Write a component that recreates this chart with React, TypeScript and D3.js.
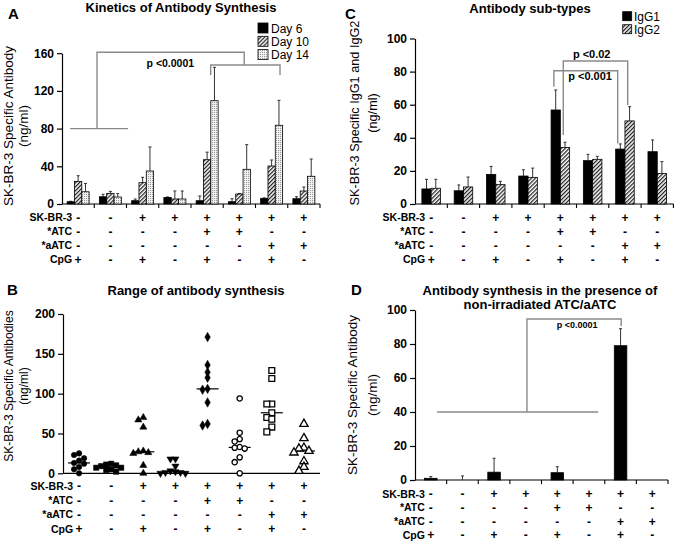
import React, { useEffect, useRef } from "react";
import * as d3 from "d3";

// conditions (columns) and the +/- table under each panel
const groups = ["CpG", "Medium", "SK+CpG", "SK", "SK+ATC+CpG", "SK+ATC", "SK+aATC+CpG", "SK+aATC"];
const rowNames = ["SK-BR-3", "*ATC", "*aATC", "CpG"];
const skbr3Row = ["-", "-", "+", "+", "+", "+", "+", "+"];
const atcRow = ["-", "-", "-", "-", "+", "+", "-", "-"];
const aatcRow = ["-", "-", "-", "-", "-", "-", "+", "+"];
const cpgRow = ["+", "-", "+", "-", "+", "-", "+", "-"];
const signRows = [skbr3Row, atcRow, aatcRow, cpgRow];

// A: kinetics (ng/ml, mean and SD)
const kineticsSeries = ["Day 6", "Day 10", "Day 14"];
const day6 = [2.4, 7.7, 3.5, 7, 3.5, 2.4, 6, 5.6];
const day6Sd = [0.5, 2.6, 1.8, 0.5, 5, 3.2, 0.5, 2.1];
const day10 = [24, 11.3, 22.6, 5.3, 47, 10.6, 40.3, 13.8];
const day10Sd = [6, 2.1, 5.7, 8.5, 8, 0.6, 6.4, 4.2];
const day14 = [13, 7.4, 35, 5.3, 109.6, 36.8, 83.5, 29.4];
const day14Sd = [8.8, 3.6, 25.5, 8.5, 35.4, 26.2, 26.5, 18.3];
const ticksA = [0, 40, 80, 120, 160];

// B: individual values
const rangeCpG = [25, 23, 19, 16, 13, 12, 8, 5, 0];
const rangeMedium = [12, 11, 10, 9, 7, 7, 5, 4, 2];
const rangeSkCpG = [70, 67, 58, 28, 27, 26, 25, 10, 0];
const rangeSk = [18, 18, 9, 3, 2, 1, 1, 0, 0];
const rangeSkAtcCpG = [171, 136, 127, 120, 106, 105, 89, 62, 60];
const rangeSkAtc = [94, 51, 43, 40, 33, 32, 31, 20, 14, 0];
const rangeSkAatcCpG = [129, 119, 87, 87, 76, 70, 68, 58, 52];
const rangeSkAatc = [62, 44, 32, 31, 28, 26, 15, 8, 3];
const ticksB = [0, 50, 100, 150, 200];

// C: sub-types
const subtypeSeries = ["IgG1", "IgG2"];
const igg1 = [9.1, 8, 17.9, 16.9, 56.8, 26.2, 33.2, 31.6];
const igg1Sd = [5.8, 3.5, 4.8, 3.8, 12.1, 3.8, 3.1, 7.1];
const igg2 = [9.5, 10.3, 11.7, 16.1, 34.2, 27, 50.2, 18.5];
const igg2Sd = [5.4, 6, 2, 5.6, 3.1, 1.8, 8.6, 7.1];
const ticksC = [0, 20, 40, 60, 80, 100];

// D: non-irradiated
const nonIrradiated = [1, 0, 4.6, 0, 4.3, 0, 79, 0];
const nonIrradiatedSd = [1, 2.4, 8.2, 0, 3.5, 0, 10, 0];
const ticksD = [0, 20, 40, 60, 80, 100];

// significance brackets: [group position, value]
const bracketsA = [
  [[0.25, 80], [2.05, 80]],
  [[1.085, 80], [1.085, 161], [5.65, 161], [5.65, 147.5]],
  [[4.61, 137], [4.61, 147.5], [6.76, 147.5], [6.76, 137]],
];
const bracketsC = [
  [[4.59, 41.7], [4.59, 86.4], [6.585, 86.4], [6.585, 59.8]],
  [[4.3, 70.9], [4.3, 80.5], [6.275, 80.5], [6.275, 36.7]],
];
const bracketsD = [
  [[0.7, 40], [5.79, 40]],
  [[3.54, 40], [3.54, 94.7], [6.52, 94.7], [6.52, 90.6]],
];

const font = "'Liberation Sans', Arial, sans-serif";

function frame(svg, p) {
  const x = d3.scaleBand().domain(groups).range([p.x0, p.x1]);
  const y = d3.scaleLinear().domain([0, p.yMax]).range([p.yBase, p.yTop]);

  const ay = svg
    .append("g")
    .attr("transform", `translate(${p.x0},0)`)
    .call(d3.axisLeft(y).tickValues(p.ticks).tickSize(5).tickSizeOuter(0).tickPadding(3));
  ay.attr("font-size", 12).attr("font-family", font).attr("font-weight", "bold");
  ay.selectAll("path,line").attr("stroke-width", 1.2);

  svg
    .append("line")
    .attr("x1", p.x0)
    .attr("x2", p.x1)
    .attr("y1", p.yBase)
    .attr("y2", p.yBase)
    .attr("stroke", "#000")
    .attr("stroke-width", 1.2);

  if (p.xTicks) {
    svg
      .selectAll(null)
      .data(groups)
      .enter()
      .append("line")
      .attr("x1", (d) => x(d) + x.bandwidth())
      .attr("x2", (d) => x(d) + x.bandwidth())
      .attr("y1", p.yBase)
      .attr("y2", p.yBase + 4)
      .attr("stroke", "#000")
      .attr("stroke-width", 1.1);
  }

  // +/- table
  signRows.forEach((row, i) => {
    const ry = p.rowStart + i * p.rowStep;
    svg
      .append("text")
      .attr("x", x(groups[0]) + x.bandwidth() / 2 - 6)
      .attr("y", ry)
      .attr("dy", "0.35em")
      .attr("text-anchor", "end")
      .attr("font-family", font)
      .attr("font-weight", "bold")
      .attr("font-size", 10.5)
      .text(rowNames[i]);
    svg
      .selectAll(null)
      .data(row)
      .enter()
      .append("text")
      .attr("x", (d, j) => x(groups[j]) + x.bandwidth() / 2)
      .attr("y", ry)
      .attr("dy", "0.35em")
      .attr("text-anchor", "middle")
      .attr("font-family", font)
      .attr("font-weight", "bold")
      .attr("font-size", 12)
      .text((d) => d);
  });

  // y title (two lines, rotated)
  p.yLabel.forEach((t, i) => {
    svg
      .append("text")
      .attr("transform", `translate(${p.yLabelX[i]},${p.yLabelY}) rotate(-90)`)
      .attr("text-anchor", "middle")
      .attr("font-family", font)
      .attr("font-size", p.yLabelSize)
      .text(t);
  });

  return { x, y };
}

function bars(svg, x, y, series, valueSets, sdSets, fills, padOuter) {
  const inner = d3.scaleBand().domain(series).range([0, x.bandwidth()]).paddingOuter(padOuter);
  series.forEach((s, si) => {
    const vals = valueSets[si];
    const sds = sdSets[si];
    const gs = svg.append("g");
    gs.selectAll(null)
      .data(groups)
      .enter()
      .filter((g, i) => sds[i] > 0)
      .each(function (g) {
        const i = groups.indexOf(g);
        const cx = x(g) + inner(s) + inner.bandwidth() / 2;
        gs.append("line")
          .attr("x1", cx).attr("x2", cx)
          .attr("y1", y(vals[i])).attr("y2", y(vals[i] + sds[i]))
          .attr("stroke", "#333").attr("stroke-width", 1);
        gs.append("line")
          .attr("x1", cx - 1.5).attr("x2", cx + 1.5)
          .attr("y1", y(vals[i] + sds[i])).attr("y2", y(vals[i] + sds[i]))
          .attr("stroke", "#333").attr("stroke-width", 1);
      });
    gs.selectAll(null)
      .data(groups.filter((g, i) => vals[i] > 0))
      .enter()
      .append("rect")
      .attr("x", (g) => x(g) + inner(s))
      .attr("width", inner.bandwidth())
      .attr("y", (g) => y(vals[groups.indexOf(g)]))
      .attr("height", (g) => y(0) - y(vals[groups.indexOf(g)]))
      .attr("fill", fills[si])
      .attr("stroke", "#000")
      .attr("stroke-width", 0.8);
  });
}

function brackets(svg, x, y, list) {
  const gx = (t) => x.range()[0] + t * x.step();
  const line = d3.line().x((d) => gx(d[0])).y((d) => y(d[1]));
  svg
    .selectAll(null)
    .data(list)
    .enter()
    .append("path")
    .attr("d", line)
    .attr("fill", "none")
    .attr("stroke", "#8a8a8a")
    .attr("stroke-width", 1.4);
  return gx;
}

function label(svg, x, y, t, size, weight = "bold", anchor = "middle") {
  svg
    .append("text")
    .attr("x", x)
    .attr("y", y)
    .attr("text-anchor", anchor)
    .attr("font-family", font)
    .attr("font-weight", weight)
    .attr("font-size", size)
    .text(t);
}

function dodge(values, y, cx) {
  const offs = [0, -5, 5, -10, 10, -15, 15, -20, 20];
  const placed = [];
  values
    .map((v, i) => i)
    .sort((a, b) => values[b] - values[a])
    .forEach((i) => {
      const py = y(values[i]);
      const dx =
        offs.find((o) => placed.every((q) => Math.abs(q.dx - o) >= 5 || Math.abs(q.py - py) >= 5)) ?? 0;
      placed.push({ dx, py });
    });
  return placed.map((q) => ({ x: cx + q.dx, y: q.py }));
}

export default function App() {
  const svgRef = useRef(null);

  useEffect(() => {
    document.body.style.margin = "0";
    const svg = d3.select(svgRef.current);
    svg.selectAll("*").remove();
    svg.append("rect").attr("width", 675).attr("height", 543).attr("fill", "#fff");

    const defs = svg.append("defs");
    const hatch = defs
      .append("pattern")
      .attr("id", "hatch")
      .attr("patternUnits", "userSpaceOnUse")
      .attr("width", 2.8)
      .attr("height", 2.8)
      .attr("patternTransform", "rotate(45)");
    hatch.append("rect").attr("width", 2.8).attr("height", 2.8).attr("fill", "#fff");
    hatch.append("line").attr("x1", 0.6).attr("x2", 0.6).attr("y1", 0).attr("y2", 2.8).attr("stroke", "#222").attr("stroke-width", 1.3);
    const dots = defs
      .append("pattern")
      .attr("id", "dots")
      .attr("patternUnits", "userSpaceOnUse")
      .attr("width", 2)
      .attr("height", 2);
    dots.append("rect").attr("width", 2).attr("height", 2).attr("fill", "#f0f0f0");
    dots.append("rect").attr("width", 1).attr("height", 1).attr("fill", "#9a9a9a");

    // ---------- A ----------
    const a = frame(svg, {
      x0: 62, x1: 320, yBase: 204, yTop: 53.2, yMax: 160, ticks: ticksA, xTicks: true,
      rowStart: 217.5, rowStep: 14,
      yLabel: ["SK-BR-3 Specific Antibody", "(ng/ml)"], yLabelX: [13, 28], yLabelY: 126, yLabelSize: 13.5,
    });
    const gxA = brackets(svg, a.x, a.y, bracketsA);
    bars(svg, a.x, a.y, kineticsSeries, [day6, day10, day14], [day6Sd, day10Sd, day14Sd], ["#000", "url(#hatch)", "url(#dots)"], 0.7);
    label(svg, gxA(3.36), a.y(145.7), "p <0.0001", 10.5);
    label(svg, 181, 12, "Kinetics of Antibody Synthesis", 13);
    label(svg, 8, 18.5, "A", 15, "bold", "start");
    kineticsSeries.forEach((s, i) => {
      svg.append("rect").attr("x", 258).attr("y", 23 + i * 13.3).attr("width", 10).attr("height", 10)
        .attr("fill", ["#000", "url(#hatch)", "url(#dots)"][i]).attr("stroke", "#000").attr("stroke-width", 0.8);
      label(svg, 271, 32.5 + i * 13.3, s, 12, "normal", "start");
    });

    // ---------- B ----------
    const b = frame(svg, {
      x0: 63, x1: 320, yBase: 473.3, yTop: 314, yMax: 200, ticks: ticksB, xTicks: false,
      rowStart: 486, rowStep: 14.3,
      yLabel: ["SK-BR-3 Specific Antibodies", "(ng/ml)"], yLabelX: [13, 28], yLabelY: 386, yLabelSize: 12,
    });
    const rangeSets = [rangeCpG, rangeMedium, rangeSkCpG, rangeSk, rangeSkAtcCpG, rangeSkAtc, rangeSkAatcCpG, rangeSkAatc];
    const shapes = [d3.symbolCircle, d3.symbolSquare, d3.symbolTriangle, d3.symbolTriangle, d3.symbolDiamond, d3.symbolCircle, d3.symbolSquare, d3.symbolTriangle];
    const sizes = [24, 28, 22, 22, 26, 22, 34, 30];
    rangeSets.forEach((vals, gi) => {
      const cx = b.x(groups[gi]) + b.x.bandwidth() / 2;
      const med = d3.median(vals);
      svg.append("line")
        .attr("x1", cx - 11).attr("x2", cx + 11)
        .attr("y1", b.y(med)).attr("y2", b.y(med))
        .attr("stroke", "#000").attr("stroke-width", 1.2);
      const open = gi >= 5;
      const sym = d3.symbol().type(shapes[gi]).size(sizes[gi]);
      svg.selectAll(null)
        .data(dodge(vals, b.y, cx))
        .enter()
        .append("path")
        .attr("d", sym)
        .attr("transform", (d) => `translate(${d.x},${d.y})${gi === 3 ? " rotate(180)" : ""}`)
        .attr("fill", open ? "#fff" : "#000")
        .attr("stroke", "#000")
        .attr("stroke-width", open ? 1.3 : 0.5);
    });
    label(svg, 196, 295, "Range of antibody synthesis", 13);
    label(svg, 7, 294.5, "B", 15, "bold", "start");

    // ---------- C ----------
    const c = frame(svg, {
      x0: 415, x1: 673.4, yBase: 204, yTop: 38.5, yMax: 100, ticks: ticksC, xTicks: true,
      rowStart: 217.5, rowStep: 14,
      yLabel: ["SK-BR-3 Specific IgG1 and IgG2", "(ng/ml)"], yLabelX: [359, 377], yLabelY: 113, yLabelSize: 12.7,
    });
    const gxC = brackets(svg, c.x, c.y, bracketsC);
    bars(svg, c.x, c.y, subtypeSeries, [igg1, igg2], [igg1Sd, igg2Sd], ["#000", "url(#hatch)"], 0.74);
    label(svg, gxC(5.47), c.y(88.2), "p <0.02", 11);
    label(svg, gxC(5.42), c.y(74.9), "p <0.001", 11);
    label(svg, 530, 12.5, "Antibody sub-types", 13);
    label(svg, 345, 18.5, "C", 15, "bold", "start");
    subtypeSeries.forEach((s, i) => {
      svg.append("rect").attr("x", 622.7).attr("y", 11.7 + i * 13).attr("width", 9).attr("height", 9)
        .attr("fill", ["#000", "url(#hatch)"][i]).attr("stroke", "#000").attr("stroke-width", 0.8);
      label(svg, 634, 20.5 + i * 13, s, 12, "normal", "start");
    });

    // ---------- D ----------
    const dd = frame(svg, {
      x0: 415, x1: 668, yBase: 480, yTop: 310, yMax: 100, ticks: ticksD, xTicks: true,
      rowStart: 494, rowStep: 13.7,
      yLabel: ["SK-BR-3 Specific Antibody", "(ng/ml)"], yLabelX: [357, 377], yLabelY: 395, yLabelSize: 13.5,
    });
    const gxD = brackets(svg, dd.x, dd.y, bracketsD);
    bars(svg, dd.x, dd.y, ["v"], [nonIrradiated], [nonIrradiatedSd], ["#000"], 0.76);
    label(svg, gxD(5.13), dd.y(89.4), "p <0.0001", 9);
    label(svg, 540, 295, "Antibody synthesis in the presence of", 13);
    label(svg, 540, 308.5, "non-irradiated ATC/aATC", 13);
    label(svg, 351, 294.5, "D", 15, "bold", "start");
  }, []);

  return (
    <div>
      <svg ref={svgRef} width={675} height={543} style={{ display: "block" }}></svg>
    </div>
  );
}
